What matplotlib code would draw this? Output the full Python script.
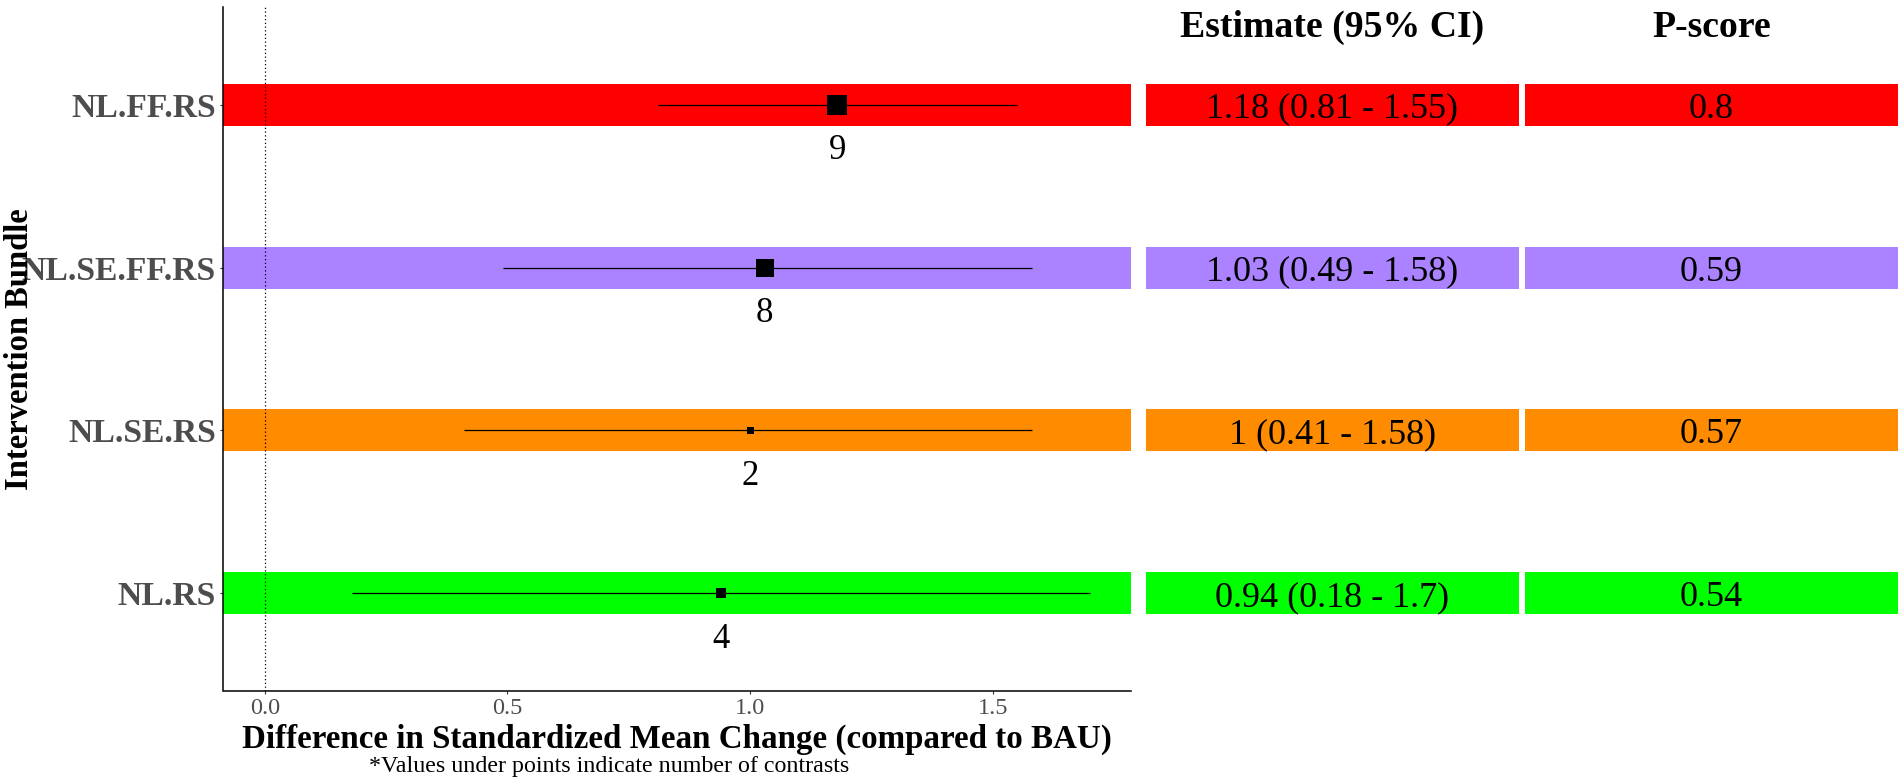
import matplotlib
matplotlib.use("Agg")
import matplotlib.pyplot as plt

plt.rcParams['font.family'] = ['Liberation Serif', 'DejaVu Serif']

# ---- data ----
bundles = ["NL.FF.RS", "NL.SE.FF.RS", "NL.SE.RS", "NL.RS"]
estimates = [1.18, 1.03, 1.00, 0.94]
ci_low = [0.81, 0.49, 0.41, 0.18]
ci_high = [1.55, 1.58, 1.58, 1.70]
n_contrasts = [9, 8, 2, 4]
p_scores = [0.80, 0.59, 0.57, 0.54]
xticks = [0.0, 0.5, 1.0, 1.5]
xtick_labels = ["0.0", "0.5", "1.0", "1.5"]
col_headers = ["Estimate (95% CI)", "P-score"]
x_title = "Difference in Standardized Mean Change (compared to BAU)"
y_title = "Intervention Bundle"
footnote = "*Values under points indicate number of contrasts"

# ---- style ----
row_colors = ["#FF0000", "#AB82FF", "#FF8C00", "#00FF00"]
W, H = 1899, 780
DPI = 100
fig = plt.figure(figsize=(W / DPI, H / DPI), dpi=DPI)

def ax_px(left, right, top, bottom):
    return fig.add_axes([left / W, 1 - bottom / H, (right - left) / W, (bottom - top) / H])

ypos = [len(bundles) - i for i in range(len(bundles))]
ylim = (0.4, len(bundles) + 0.6)
half_h = 0.129

def fmt(v):
    return f"{v:g}"

def marker_pt(n):
    return (3.14 + 1.93 * n) * 72 / DPI

# ---- main forest panel ----
ax = ax_px(223.5, 1131, 7, 691)
lo = min(0, min(ci_low)); hi = max(ci_high)
pad = 0.05 * (hi - lo)
ax.set_xlim(lo - pad, hi + pad)
ax.set_ylim(*ylim)
for y, c in zip(ypos, row_colors):
    ax.axhspan(y - half_h, y + half_h, color=c, zorder=1, lw=0)
ax.axvline(0, color="black", lw=0.9, ls=(0, (1, 2)), zorder=2)
ax.hlines(ypos, ci_low, ci_high, color="black", lw=0.9, zorder=3)
for y, e, n in zip(ypos, estimates, n_contrasts):
    ax.plot([e], [y], marker="s", ms=marker_pt(n), mew=0, color="black", zorder=4)
    ax.text(e, y - 0.335, str(n), ha="center", va="baseline", fontsize=25, color="black")
ax.set_yticks(ypos)
ax.set_yticklabels(bundles, fontsize=24.2, fontweight="bold", color="#4D4D4D")
ax.set_xticks(xticks)
ax.set_xticklabels(xtick_labels, fontsize=17.5, color="#4D4D4D")
ax.tick_params(axis="y", length=2.2, width=0.8, color="#333333", pad=3.2)
ax.tick_params(axis="x", length=2.2, width=0.8, color="#333333", pad=2.5)
for s in ("top", "right"):
    ax.spines[s].set_visible(False)
for s in ("left", "bottom"):
    ax.spines[s].set_linewidth(1.1)
    ax.spines[s].set_color("black")

# ---- table panels ----
est_labels = [f"{fmt(e)} ({fmt(l)} - {fmt(h)})" for e, l, h in zip(estimates, ci_low, ci_high)]
p_labels = [fmt(p) for p in p_scores]
panels = [(1146, 1519, est_labels), (1525, 1898, p_labels)]
for (l, r, labels), header in zip(panels, col_headers):
    tax = ax_px(l, r, 7, 691)
    tax.set_xlim(0, 1)
    tax.set_ylim(*ylim)
    tax.axis("off")
    for y, c, t in zip(ypos, row_colors, labels):
        tax.axhspan(y - half_h, y + half_h, color=c, lw=0)
        tax.text(0.5, y - 0.08, t, ha="center", va="baseline", fontsize=26, color="black")
    fig.text(((l + r) / 2) / W, 1 - 37 / H, header, ha="center", va="baseline",
             fontsize=27.2, fontweight="bold", color="black")

# ---- titles ----
fig.text(677 / W, 1 - 748 / H, x_title, ha="center", va="baseline",
         fontsize=23.8, fontweight="bold")
fig.text(20 / W, 1 - 349 / H, y_title, ha="center", va="center", rotation=90,
         fontsize=23.5, fontweight="bold")
fig.text(609.5 / W, 1 - 772 / H, footnote, ha="center", va="baseline", fontsize=17.3)

fig.savefig("out.png", dpi=DPI)
